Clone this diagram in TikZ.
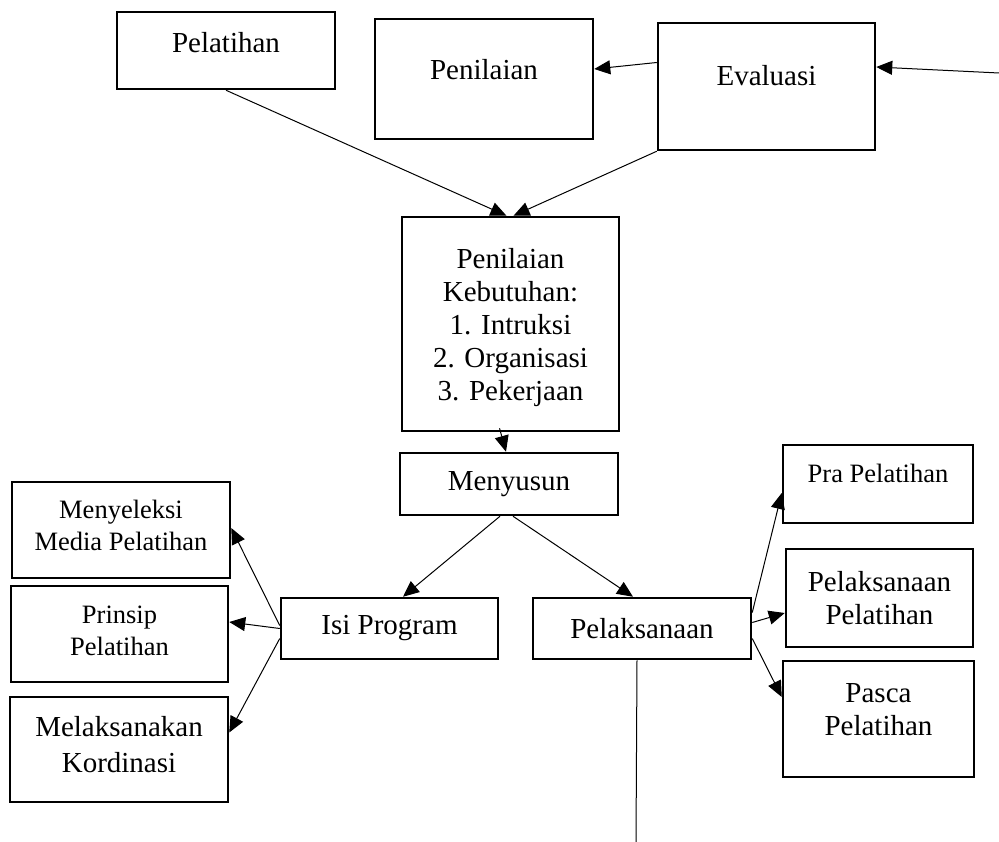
\documentclass[tikz,border=0pt]{standalone}
\usepackage{fontspec}
\setmainfont{Liberation Serif}
\usetikzlibrary{arrows.meta}

\begin{document}
\begin{tikzpicture}[
  x=1pt,y=-1pt,
  box/.style={draw,line width=2.5pt,align=center,inner sep=0pt,font=\fontsize{29}{33}\selectfont},
  small/.style={box,font=\fontsize{26.5}{32}\selectfont},
  arrow/.style={-{Triangle[length=16pt,width=14pt]},line width=1pt},
  plain/.style={line width=1pt}
]
\useasboundingbox (0,0) rectangle (999,842);
\node[box,minimum width=218pt,minimum height=77pt,text depth=16pt] (pelatihan) at (226,50.5) {Pelatihan};
\node[box,minimum width=218pt,minimum height=120pt,text depth=20pt] (penilaian) at (484,79) {Penilaian};
\node[box,minimum width=217pt,minimum height=127pt,text depth=22pt] (evaluasi) at (766.5,86.5) {Evaluasi};
\node[box,minimum width=217pt,minimum height=214pt,text depth=0pt] (kebutuhan) at (510.5,324) {Penilaian\\Kebutuhan:\\1. Intruksi\\2. Organisasi\\3. Pekerjaan};
\node[box,minimum width=218pt,minimum height=62pt] (menyusun) at (509,484) {Menyusun};
\node[box,minimum width=217pt,minimum height=61pt] (isi) at (389.5,628.5) {Isi Program};
\node[box,minimum width=218pt,minimum height=61pt] (pelaksanaan) at (642,628.5) {Pelaksanaan};
\node[small,minimum width=190pt,minimum height=78pt,text depth=22pt] (pra) at (878,484) {Pra Pelatihan};
\node[box,minimum width=187pt,minimum height=98pt] (pelpel) at (879.5,598) {Pelaksanaan\\Pelatihan};
\node[box,minimum width=191pt,minimum height=116pt,text depth=18pt] (pasca) at (878.5,719) {Pasca\\Pelatihan};
\node[small,minimum width=218pt,minimum height=96pt,text depth=10pt] (media) at (121,530) {Menyeleksi\\Media Pelatihan};
\node[small,minimum width=217pt,minimum height=96pt,text depth=6pt] (prinsip) at (119.5,634) {Prinsip\\Pelatihan};
\node[box,minimum width=218pt,minimum height=105pt,text depth=10pt] (kordinasi) at (119,749.5) {Melaksanakan\\[3pt]Kordinasi};
\coordinate (masuk) at (999,73);
\coordinate (bawah) at (636,842);

\draw[arrow] (pelatihan.south) -- ([xshift=-4pt]kebutuhan.north);
\draw[arrow] (evaluasi.south west) -- ([xshift=3pt]kebutuhan.north);
\draw[arrow] ([yshift=24pt]evaluasi.west) -- ([yshift=10pt]penilaian.east);
\draw[arrow] (masuk) -- ([yshift=19.5pt]evaluasi.east);
\draw[arrow] ([xshift=-11pt,yshift=4pt]kebutuhan.south) -- ([xshift=-3pt]menyusun.north);
\draw[arrow] ([xshift=-9pt]menyusun.south) -- ([xshift=13.5pt]isi.north);
\draw[arrow] ([xshift=4pt]menyusun.south) -- ([xshift=-9pt]pelaksanaan.north);
\draw[arrow] ([yshift=3pt]isi.west) -- ([yshift=2pt]media.east);
\draw[arrow] (isi.west) -- ([yshift=12pt]prinsip.east);
\draw[arrow] ([yshift=-10pt]isi.west) -- ([yshift=17pt]kordinasi.east);
\draw[arrow] ([yshift=16pt]pelaksanaan.east) -- ([yshift=-9pt]pra.west);
\draw[arrow] ([yshift=6pt]pelaksanaan.east) -- ([yshift=-15pt]pelpel.west);
\draw[arrow] ([yshift=-10pt]pelaksanaan.east) -- ([yshift=22pt]pasca.west);
\draw[plain] ([xshift=-5pt]pelaksanaan.south) -- (bawah);
\end{tikzpicture}
\end{document}
